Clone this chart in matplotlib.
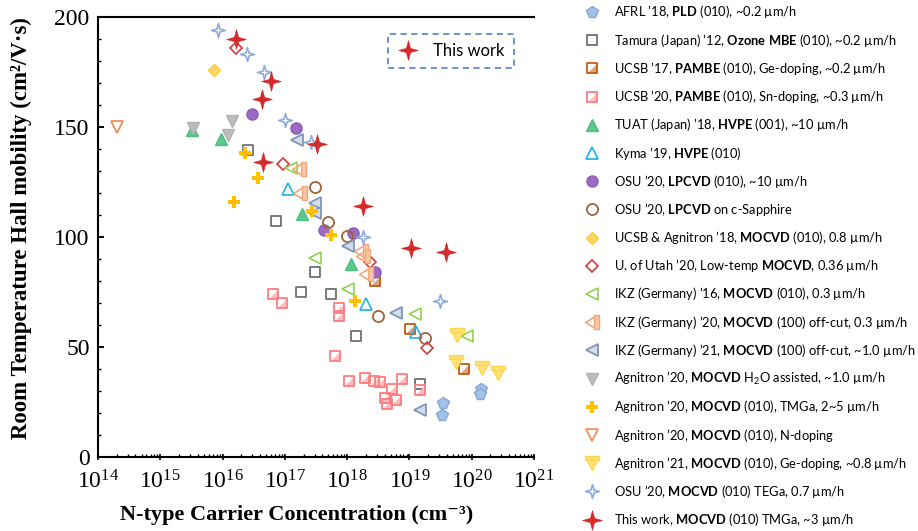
import numpy as np
import matplotlib
matplotlib.use('Agg')
import matplotlib.pyplot as plt
from matplotlib.path import Path
from matplotlib.lines import Line2D
from matplotlib.ticker import MultipleLocator, LogLocator, NullFormatter

plt.rcParams['font.family'] = ['Liberation Serif', 'DejaVu Serif']
plt.rcParams['mathtext.fontset'] = 'custom'
plt.rcParams['mathtext.rm'] = 'Lato'
plt.rcParams['mathtext.bf'] = 'Lato:bold'
plt.rcParams['mathtext.it'] = 'Lato:italic'

# carrier concentration (cm^-3) / mobility (cm^2/Vs) for each report
afrl_n = [3.5e19, 3.3e19, 1.4e20, 1.35e20]
afrl_mu = [24.5, 19, 30.8, 28.5]

tamura_n = [2.6e16, 7.1e16, 1.8e17, 3.1e17, 5.6e17, 1.4e18, 1.5e19]
tamura_mu = [139.5, 107.3, 75, 84, 74, 55, 33]

ucsb17_n = [2.8e18, 1.02e19, 7.4e19]
ucsb17_mu = [80, 58, 40]

ucsb20_n = [6.5e16, 9.1e16, 7.4e17, 7.4e17, 6.3e17, 1.07e18, 1.95e18, 2.7e18,
            3.4e18, 7.6e18, 5.2e18, 4.1e18, 6.0e18, 4.4e18, 1.5e19]
ucsb20_mu = [74, 70, 67.6, 64.1, 46, 34.4, 36, 34.7, 34.2, 35.6, 30.8, 26.7, 26, 24.2, 30.5]

tuat_n = [3.2e15, 9.3e15, 1.86e17, 1.15e18]
tuat_mu = [148.6, 144.5, 110.5, 87.6]

kyma_n = [1.12e17, 2.0e18, 1.26e19]
kyma_mu = [122, 69.5, 56.8]

osu_lp_n = [3.0e16, 1.5e17, 4.3e17, 1.26e18, 2.75e18]
osu_lp_mu = [156, 149.7, 103, 102, 84]

osu_sap_n = [3.0e17, 4.9e17, 1.0e18, 3.1e18, 1.78e19]
osu_sap_mu = [122.6, 106.7, 100.5, 64, 54.2]

ucsb_agn_n = [7.4e15]
ucsb_agn_mu = [176]

utah_n = [1.62e16, 9.3e16, 2.3e18, 1.95e19]
utah_mu = [185.8, 133, 88.5, 49.7]

ikz16_n = [1.26e17, 3.1e17, 1.02e18, 1.23e19, 8.3e19]
ikz16_mu = [131.2, 90.3, 76.2, 64.9, 55]

ikz20_n = [1.7e17, 1.78e17, 1.66e18, 1.78e18, 2.0e18]
ikz20_mu = [131, 120, 93.5, 91.5, 83]

ikz21_n = [1.55e17, 3.1e17, 3.1e17, 1.05e18, 6.2e18, 1.5e19]
ikz21_mu = [144, 115.3, 110.8, 96, 65.5, 21.5]

agn_h2o_n = [3.4e15, 1.41e16, 1.2e16]
agn_h2o_mu = [149.7, 152.7, 146.4]

agn_tmga_n = [2.3e16, 3.7e16, 1.5e16, 2.7e17, 5.6e17, 1.35e18]
agn_tmga_mu = [138, 127, 116, 112, 101, 71]

agn_n_n = [2.0e14]
agn_n_mu = [150]

agn21_n = [5.8e19, 5.6e19, 1.48e20, 2.6e20]
agn21_mu = [55.5, 43.3, 40.6, 38]

osu_teg_n = [8.3e15, 2.5e16, 4.7e16, 1.02e17, 2.6e17, 1.8e18, 3.1e19]
osu_teg_mu = [194, 183, 175, 153, 143, 100, 71]

this_n = [1.64e16, 5.98e16, 4.25e16, 3.24e17, 4.47e16, 1.78e18, 1.05e19, 3.8e19]
this_mu = [190, 171, 162.7, 142.1, 134, 114, 95, 93.2]


# custom marker shapes
def star(inner):
    verts = []
    for k in range(4):
        a = np.pi / 2 * k
        verts.append((np.cos(a), np.sin(a)))
        b = a + np.pi / 4
        verts.append((inner * np.cos(b), inner * np.sin(b)))
    verts.append(verts[0])
    return Path(verts, closed=True)


square = Path([(-1, -1), (1, -1), (1, 1), (-1, 1), (-1, -1)], closed=True)
corner = Path([(-1, -1), (1, -1), (1, 1), (-1, -1)], closed=True)
tri_left = Path([(-1, 0), (0.5, 0.9), (0.5, -0.9), (-1, 0)], closed=True)
bar_right = Path([(0.3, -1), (1, -1), (1, 1), (0.3, 1), (0.3, -1)], closed=True)
tri_down = Path([(-0.9, 0.7), (0.9, 0.7), (0, -1), (-0.9, 0.7)], closed=True)
bar_top = Path([(-1, 0.45), (1, 0.45), (1, 1), (-1, 1), (-1, 0.45)], closed=True)
sparkle = star(0.3)
red_star = star(0.3)

series = [
    ("AFRL ’18, $\\mathbf{PLD}$ (010), ~0.2 µm/h", afrl_n, afrl_mu,
     [dict(marker='p', ms=8.5, mfc='#A3C1E6', mec='#86A8D6', mew=1)]),
    ("Tamura (Japan) ’12, $\\mathbf{Ozone\\ MBE}$ (010), ~0.2 µm/h", tamura_n, tamura_mu,
     [dict(marker=square, ms=7, mfc='none', mec='#707070', mew=1.3)]),
    ("UCSB ’17, $\\mathbf{PAMBE}$ (010), Ge-doping, ~0.2 µm/h", ucsb17_n, ucsb17_mu,
     [dict(marker=corner, ms=7, mfc='#DBA47E', mec='none'),
      dict(marker=square, ms=7, mfc='none', mec='#C55A11', mew=1.3)]),
    ("UCSB ’20, $\\mathbf{PAMBE}$ (010), Sn-doping, ~0.3 µm/h", ucsb20_n, ucsb20_mu,
     [dict(marker=corner, ms=7, mfc='#FFBDBE', mec='none'),
      dict(marker=square, ms=7, mfc='none', mec='#FF7C7F', mew=1.3)]),
    ("TUAT (Japan) ’18, $\\mathbf{HVPE}$ (001), ~10 µm/h", tuat_n, tuat_mu,
     [dict(marker='^', ms=8, mfc='#5CC98C', mec='#4FBE80', mew=1)]),
    ("Kyma ’19, $\\mathbf{HVPE}$ (010)", kyma_n, kyma_mu,
     [dict(marker='^', ms=8, mfc='none', mec='#1FB2EE', mew=1.2)]),
    ("OSU ’20, $\\mathbf{LPCVD}$ (010), ~10 µm/h", osu_lp_n, osu_lp_mu,
     [dict(marker='o', ms=8, mfc='#9C6CC5', mec='#8B5CB6', mew=1)]),
    ("OSU ’20, $\\mathbf{LPCVD}$ on c-Sapphire", osu_sap_n, osu_sap_mu,
     [dict(marker='o', ms=8, mfc='none', mec='#A0643A', mew=1.3)]),
    ("UCSB & Agnitron ’18, $\\mathbf{MOCVD}$ (010), 0.8 µm/h", ucsb_agn_n, ucsb_agn_mu,
     [dict(marker='D', ms=6.5, mfc='#FFD966', mec='#FFC93F', mew=1)]),
    ("U. of Utah ’20, Low-temp $\\mathbf{MOCVD}$, 0.36 µm/h", utah_n, utah_mu,
     [dict(marker='D', ms=6, mfc='none', mec='#D63B3B', mew=1.2)]),
    ("IKZ (Germany) ’16, $\\mathbf{MOCVD}$ (010), 0.3 µm/h", ikz16_n, ikz16_mu,
     [dict(marker='<', ms=8, mfc='none', mec='#92D050', mew=1.2)]),
    ("IKZ (Germany) ’20, $\\mathbf{MOCVD}$ (100) off-cut, 0.3 µm/h", ikz20_n, ikz20_mu,
     [dict(marker=tri_left, ms=10, mfc='none', mec='#F4A67A', mew=1.2),
      dict(marker=bar_right, ms=10, mfc='#F8C6A6', mec='#F4A67A', mew=1)]),
    ("IKZ (Germany) ’21, $\\mathbf{MOCVD}$ (100) off-cut, ~1.0 µm/h", ikz21_n, ikz21_mu,
     [dict(marker='<', ms=8, mfc='#D5DDEA', mec='#7F96B8', mew=1.3)]),
    ("Agnitron ’20, $\\mathbf{MOCVD}$ H$_2$O assisted, ~1.0 µm/h", agn_h2o_n, agn_h2o_mu,
     [dict(marker='v', ms=9, mfc='#BDBDBD', mec='#B0B0B0', mew=1)]),
    ("Agnitron ’20, $\\mathbf{MOCVD}$ (010), TMGa, 2~5 µm/h", agn_tmga_n, agn_tmga_mu,
     [dict(marker='P', ms=9, mfc='#FFC000', mec='#FFC000', mew=0)]),
    ("Agnitron ’20, $\\mathbf{MOCVD}$ (010), N-doping", agn_n_n, agn_n_mu,
     [dict(marker='v', ms=8, mfc='none', mec='#F08A4B', mew=1.2)]),
    ("Agnitron ’21, $\\mathbf{MOCVD}$ (010), Ge-doping, ~0.8 µm/h", agn21_n, agn21_mu,
     [dict(marker=tri_down, ms=10, mfc='#FFE27A', mec='#FFD54F', mew=1),
      dict(marker=bar_top, ms=10, mfc='#FFE27A', mec='#FFD54F', mew=1)]),
    ("OSU ’20, $\\mathbf{MOCVD}$ (010) TEGa, 0.7 µm/h", osu_teg_n, osu_teg_mu,
     [dict(marker=sparkle, ms=10, mfc='none', mec='#8FAADC', mew=1.2)]),
    ("This work, $\\mathbf{MOCVD}$ (010) TMGa, ~3 µm/h", this_n, this_mu,
     [dict(marker=red_star, ms=14, mfc='#D42A2A', mec='#D42A2A', mew=0.5)]),
]

fig = plt.figure(figsize=(9.18, 5.31), dpi=100)
ax = fig.add_axes([98 / 918, 74 / 531, 436 / 918, 440 / 531])

for label, xs, ys, layers in series:
    for style in layers:
        ax.plot(xs, ys, linestyle='none', **style)

ax.set_xscale('log')
ax.set_xlim(1e14, 1e21)
ax.set_ylim(0, 200)
ax.yaxis.set_major_locator(MultipleLocator(50))
ax.yaxis.set_minor_locator(MultipleLocator(10))
ax.xaxis.set_major_locator(LogLocator(base=10, numticks=10))
ax.xaxis.set_minor_locator(LogLocator(base=10, subs=np.arange(2, 10), numticks=20))
ax.xaxis.set_minor_formatter(NullFormatter())

ax.tick_params(axis='x', which='major', direction='inout', length=5, width=1.2, labelsize=17, pad=7)
ax.tick_params(axis='x', which='minor', direction='in', length=2.5, width=1)
ax.tick_params(axis='y', which='major', direction='in', length=4, width=1.4, labelsize=17, pad=6)
ax.tick_params(axis='y', which='minor', direction='in', length=2.5, width=1)
for side in ['left', 'bottom', 'top']:
    ax.spines[side].set_linewidth(1.5)
ax.spines['right'].set_visible(False)

ax.set_xlabel('N-type Carrier Concentration (cm⁻³)', fontsize=16, fontweight='bold')
ax.xaxis.set_label_coords(0.456, -0.11)
ax.set_ylabel('Room Temperature Hall mobility (cm²/V·s)', fontsize=16.5, fontweight='bold')
ax.yaxis.set_label_coords(-0.152, 0.52)

# "This work" box in the upper right of the plot
mine = series[-1][3][0]
h = Line2D([], [], linestyle='none', **mine)
leg = ax.legend([h], ['This work'], loc='upper right', bbox_to_anchor=(0.954, 0.961),
                borderaxespad=0, prop={'family': 'Lato', 'size': 12}, fancybox=False,
                edgecolor='#4472C4', framealpha=1, handlelength=1.4, handletextpad=0.8,
                borderpad=0.55)
leg.get_frame().set_linestyle((0, (4, 3)))
leg.get_frame().set_linewidth(1.1)

# list of sources on the right side, one row per report
lax = fig.add_axes([0, 0, 1, 1])
lax.set_xlim(0, 918)
lax.set_ylim(531, 0)
lax.axis('off')
row0, step = 12, 28.2
for i, (label, xs, ys, layers) in enumerate(series):
    y = row0 + step * i
    for style in layers:
        lax.plot([592], [y], linestyle='none', **style)
    lax.text(614, y, label, fontsize=9.3, fontfamily='Lato', va='center', ha='left')

fig.savefig('out.png', dpi=100)
